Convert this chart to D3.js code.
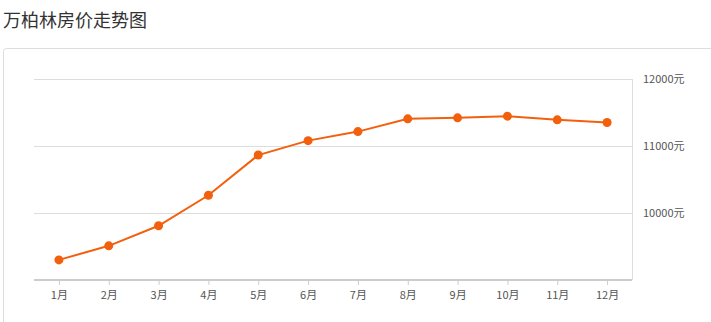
<!DOCTYPE html>
<html>
<head>
<meta charset="utf-8">
<script src="https://cdn.jsdelivr.net/npm/d3@7"></script>
<style>
  body { margin: 0; background: #fff; font-family: "Microsoft YaHei", "Noto Sans CJK SC", sans-serif; }
  svg text { font-family: "Noto Sans CJK SC", sans-serif; }
</style>
</head>
<body>
<svg id="plot" width="711" height="322"></svg>
<script>
"use strict";

const months = ["1月", "2月", "3月", "4月", "5月", "6月", "7月", "8月", "9月", "10月", "11月", "12月"];
const prices = [9300, 9510, 9810, 10265, 10865, 11080, 11215, 11405, 11420, 11445, 11390, 11350];
const yTicks = [10000, 11000, 12000];

const svg = d3.select("svg#plot");
const plotLeft = 34, plotRight = 632, plotTop = 79, plotBottom = 280;

// title + panel
svg.append("text")
  .attr("x", 3).attr("y", 27)
  .attr("font-size", 18).attr("fill", "#333")
  .text("万柏林房价走势图");

svg.append("rect")
  .attr("x", 3.5).attr("y", 48.5)
  .attr("width", 720).attr("height", 300)
  .attr("rx", 3)
  .attr("fill", "none").attr("stroke", "#ddd");

const x = d3.scalePoint().domain(months).range([plotLeft, plotRight]).padding(0.5);
const y = d3.scaleLinear().domain([9000, 12000]).range([plotBottom, plotTop]);

// grid lines
svg.append("g")
  .selectAll("line")
  .data(yTicks)
  .enter().append("line")
  .attr("x1", plotLeft).attr("x2", plotRight)
  .attr("y1", d => Math.round(y(d)) + 0.5)
  .attr("y2", d => Math.round(y(d)) + 0.5)
  .attr("stroke", "#ddd");

svg.append("line")
  .attr("x1", plotRight + 0.5).attr("x2", plotRight + 0.5)
  .attr("y1", plotTop).attr("y2", plotBottom)
  .attr("stroke", "#ddd");

// y labels
svg.append("g")
  .selectAll("text")
  .data(yTicks)
  .enter().append("text")
  .attr("x", 643)
  .attr("y", d => y(d) + 4)
  .attr("font-size", 11).attr("fill", "#555")
  .text(d => d + "元");

// x axis
const xAxis = svg.append("g")
  .attr("transform", `translate(0, ${plotBottom})`)
  .call(d3.axisBottom(x).tickSize(5).tickSizeOuter(0).tickPadding(6));
xAxis.select(".domain").attr("stroke", "#ccc").attr("stroke-width", 2)
  .attr("d", `M${plotLeft},0H${plotRight}`);
xAxis.selectAll(".tick line").attr("stroke", "#ccc");
xAxis.selectAll(".tick text")
  .attr("font-size", 11).attr("fill", "#555")
  .attr("font-family", "'Noto Sans CJK SC', sans-serif");

// line + points
const line = d3.line()
  .x((d, i) => x(months[i]))
  .y(d => y(d));

svg.append("path")
  .datum(prices)
  .attr("d", line)
  .attr("fill", "none")
  .attr("stroke", "#f2600d")
  .attr("stroke-width", 2);

svg.append("g")
  .selectAll("circle")
  .data(prices)
  .enter().append("circle")
  .attr("cx", (d, i) => x(months[i]))
  .attr("cy", d => y(d))
  .attr("r", 4.5)
  .attr("fill", "#f2600d");
</script>
</body>
</html>
